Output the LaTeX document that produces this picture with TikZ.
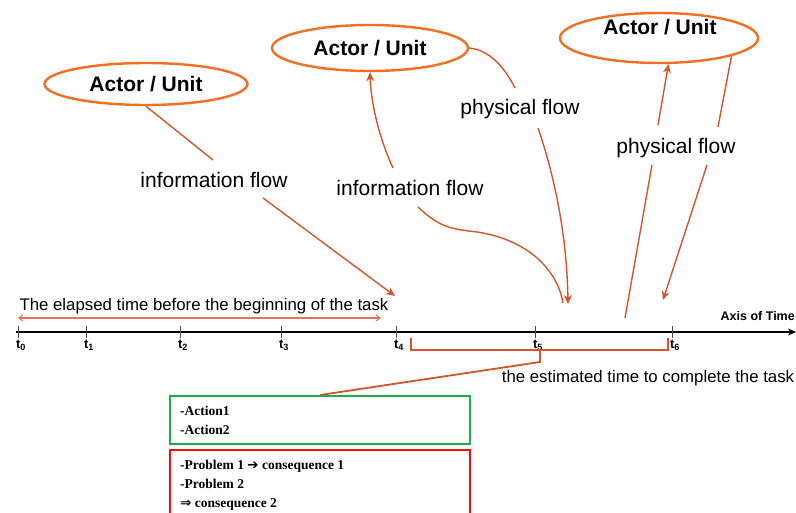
\documentclass[tikz,border=0pt]{standalone}
\usepackage{fontspec}
\setmainfont{Liberation Sans}
\newfontfamily\boxfont{Liberation Serif}
\newfontfamily\symfont{DejaVu Sans}
\usetikzlibrary{shapes.geometric,arrows.meta}
\definecolor{ellorange}{HTML}{F26F21}
\definecolor{flowc}{HTML}{D2562A}
\definecolor{elapsedc}{HTML}{E57552}
\definecolor{gbox}{HTML}{1DB04B}
\definecolor{rbox}{HTML}{F01010}
\tikzset{
  actor/.style={ellipse,draw=ellorange,line width=2.4pt,inner sep=0pt,font=\fontsize{21}{24}\selectfont\bfseries},
  flowlbl/.style={font=\fontsize{21}{24}\selectfont,inner sep=1pt},
  flowline/.style={draw=flowc,line width=1.4pt},
  flowarrow/.style={flowline,-{Stealth[length=9pt,width=8pt]}},
  tlabel/.style={font=\fontsize{13}{15}\selectfont\bfseries,inner sep=0pt},
  tick/.style={draw=black!70,line width=0.8pt},
  bracket/.style={draw=flowc,line width=1.8pt},
  boxtext/.style={inner sep=0pt,align=left,anchor=north west,font=\boxfont\bfseries\fontsize{13.5}{18.5}\selectfont},
  actbox/.style={draw=#1,line width=2.4pt,inner sep=0pt,minimum width=300pt,anchor=north west}
}
\begin{document}
\begin{tikzpicture}[x=1pt,y=-1pt]
\useasboundingbox (0,0) rectangle (796,513);
\clip (0,0) rectangle (796,513);
\fill[white] (0,0) rectangle (796,513);

% actors
\node[actor,minimum width=203pt,minimum height=42pt] (e1) at (146,84) {Actor / Unit};
\node[actor,minimum width=196pt,minimum height=46pt] (e2) at (370,48) {Actor / Unit};
\node[actor,minimum width=198pt,minimum height=50pt] (e3) at (659,38) {};
\node[font=\fontsize{21}{24}\selectfont\bfseries,inner sep=0pt] (e3t) at (660,27) {Actor / Unit};

% flow labels
\node[flowlbl] (if1) at (214,180) {information flow};
\node[flowlbl] (if2) at (410,188) {information flow};
\node[flowlbl] (pf1) at (520,109) {physical flow};
\node[flowlbl] (pf2) at (676,148) {physical flow};

% axis
\coordinate (ax0) at (16,332);
\coordinate (ax1) at (796,332);
\draw[line width=2pt,-{Stealth[length=8pt,width=7pt]}] (ax0) -- (ax1);
\node[font=\fontsize{12.5}{14}\selectfont\bfseries,anchor=east,inner sep=0pt] (axl) at (795,316) {Axis of Time};

\foreach \x/\n in {18/0,86/1,180/2,281/3,396/4,535/5,672/6}{
  \draw[tick] (\x,326) -- (\x,338);
  \node[tlabel] (t\n) at (\x+3,345) {t\textsubscript{\n}};
}

% elapsed time
\coordinate (el0) at (18,318);
\coordinate (el1) at (381,318);
\draw[elapsedc,line width=1.1pt,{Straight Barb[length=4pt,width=6pt]}-{Straight Barb[length=4pt,width=6pt]}] (el0) -- (el1);
\node[font=\fontsize{16.8}{20}\selectfont,inner sep=0pt] (elt) at (204,306) {The elapsed time before the beginning of the task};

% estimated time bracket
\coordinate (br0) at (411,338);
\coordinate (br1) at (411,350);
\coordinate (br2) at (668,350);
\coordinate (br3) at (668,338);
\coordinate (brm) at (540,350);
\coordinate (brt) at (540,362);
\draw[bracket] (br0) -- (br1) -- (br2) -- (br3);
\node[font=\fontsize{16.8}{20}\selectfont,inner sep=0pt] (est) at (648,378) {the estimated time to complete the task};

% boxes
\node[actbox=gbox,minimum height=48pt] (gb) at (169,395) {};
\node[boxtext] (gbt) at (180,406) {-Action1\\-Action2};
\node[actbox=rbox,minimum height=90pt] (rb) at (169,449) {};
\node[boxtext] (rbt) at (180,460) {-Problem 1 {\symfont\bfseries ➔} consequence 1\\-Problem 2\\[1pt]{\symfont ⇒} consequence 2};
\draw[bracket] (brm) -- (brt) -- (gb.north);

% flows from actor 1
\coordinate (a1) at (213,160);
\coordinate (a2) at (263,198);
\coordinate (a3) at (395,296);
\draw[flowline] (e1.south) -- (a1);
\draw[flowarrow] (a2) -- (a3);

% information flow 2
\coordinate (b1) at (393,168);
\coordinate (b2) at (418,207);
\coordinate (bm) at (477,232);
\coordinate (b3) at (563,303);
\draw[flowarrow] (b1) .. controls (380,140) and (371,105) .. (e2.south);
\draw[flowline] (b2) .. controls (440,228) and (452,229) .. (bm) .. controls (530,240) and (558,272) .. (b3);

% physical flow 1
\coordinate (p1a) at (515,88);
\coordinate (p1b) at (538,128);
\coordinate (p1c) at (568,304);
\draw[flowline] (e2.east) .. controls (490,50) and (505,68) .. (p1a);
\draw[flowarrow] (p1b) .. controls (556,180) and (567,240) .. (p1c);

% physical flow 2
\coordinate (q1) at (625,318);
\coordinate (q2) at (652,165);
\coordinate (q3) at (658,125);
\coordinate (q5) at (718,127);
\coordinate (q6) at (707,165);
\coordinate (q7) at (663,300);
\draw[flowline] (q1) -- (q2);
\draw[flowarrow] (q3) -- (e3.-70);
\draw[flowline] (e3.-14) -- (q5);
\draw[flowarrow] (q6) -- (q7);
\end{tikzpicture}
\end{document}
